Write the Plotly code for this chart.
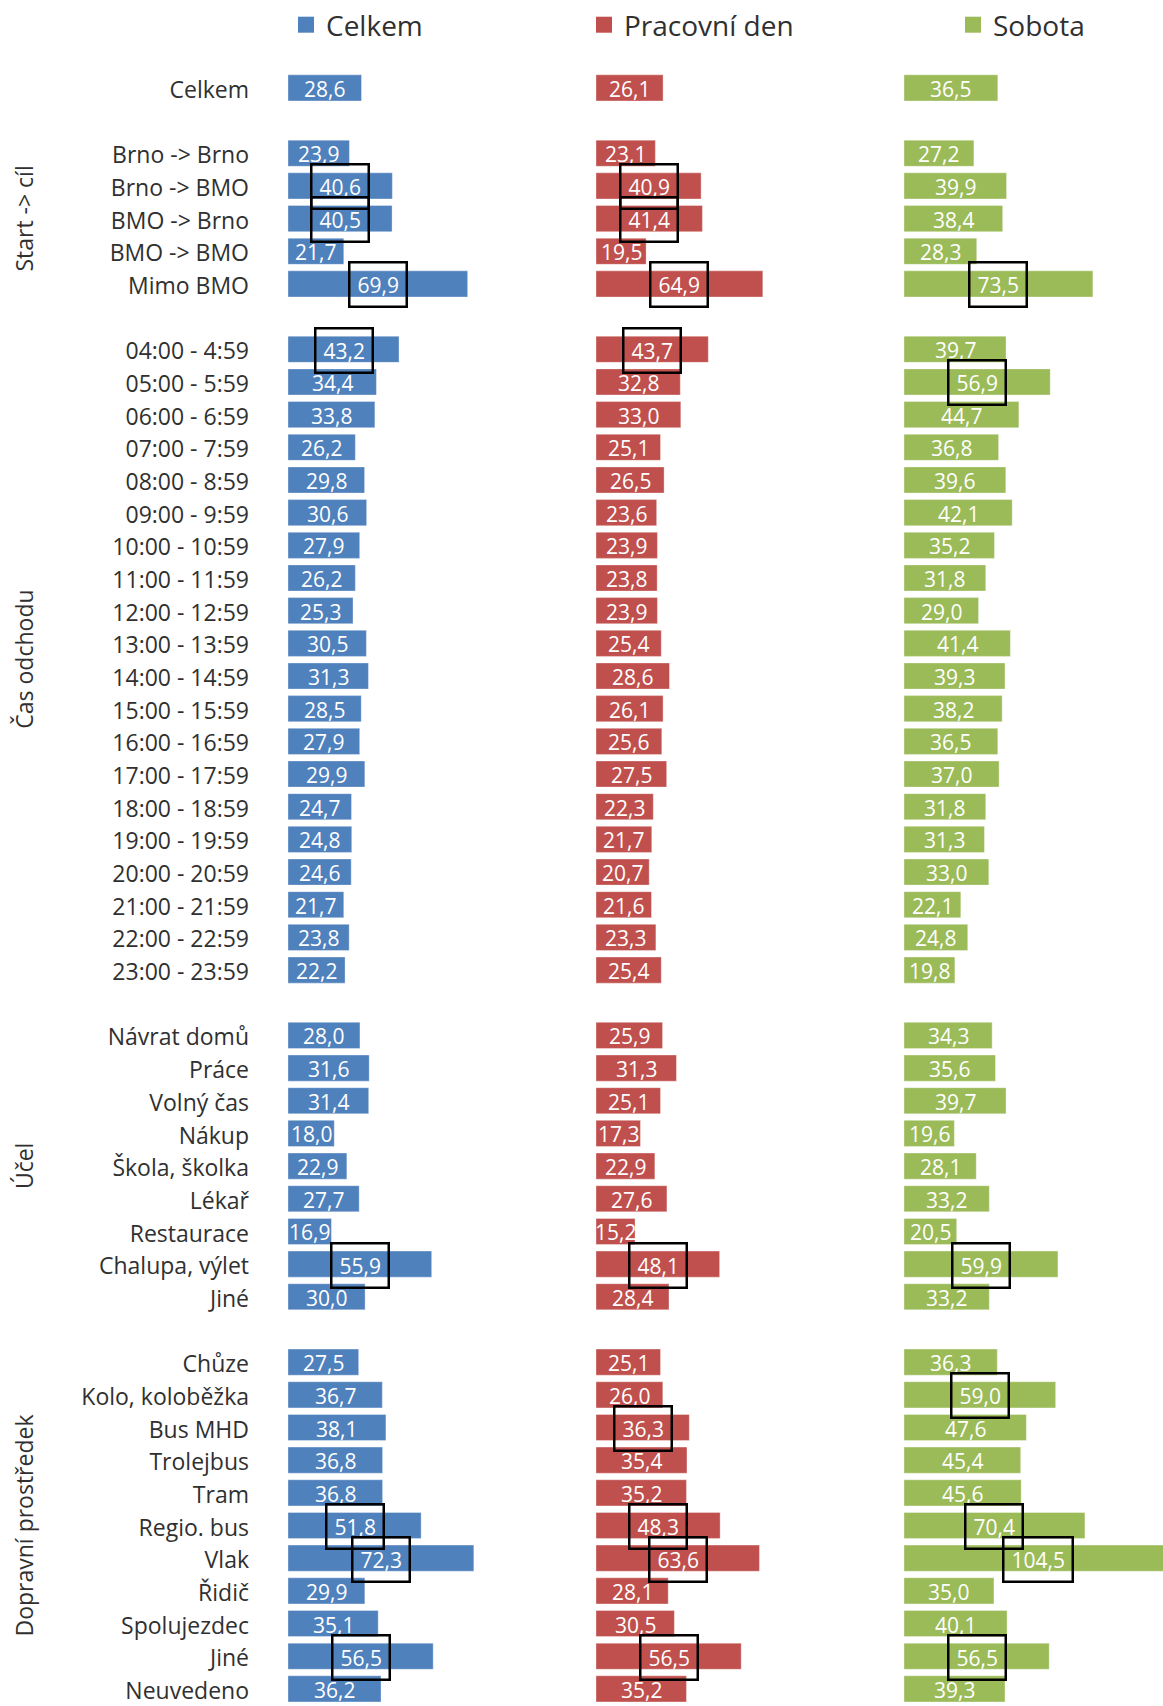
import plotly.graph_objects as go

# ---------------- data ----------------
series_names = ["Celkem", "Pracovní den", "Sobota"]
series_colors = ["#4F81BD", "#C0504D", "#9BBB59"]

group_titles = ["", "Start -> cíl", "Čas odchodu", "Účel", "Dopravní prostředek"]

cat_total = ["Celkem"]
cat_route = ["Brno -> Brno", "Brno -> BMO", "BMO -> Brno", "BMO -> BMO", "Mimo BMO"]
cat_time = ["04:00 - 4:59", "05:00 - 5:59", "06:00 - 6:59", "07:00 - 7:59", "08:00 - 8:59",
            "09:00 - 9:59", "10:00 - 10:59", "11:00 - 11:59", "12:00 - 12:59", "13:00 - 13:59",
            "14:00 - 14:59", "15:00 - 15:59", "16:00 - 16:59", "17:00 - 17:59", "18:00 - 18:59",
            "19:00 - 19:59", "20:00 - 20:59", "21:00 - 21:59", "22:00 - 22:59", "23:00 - 23:59"]
cat_purpose = ["Návrat domů", "Práce", "Volný čas", "Nákup", "Škola, školka", "Lékař",
               "Restaurace", "Chalupa, výlet", "Jiné"]
cat_mode = ["Chůze", "Kolo, koloběžka", "Bus MHD", "Trolejbus", "Tram", "Regio. bus", "Vlak",
            "Řidič", "Spolujezdec", "Jiné", "Neuvedeno"]

celkem_total = [28.6]
celkem_route = [23.9, 40.6, 40.5, 21.7, 69.9]
celkem_time = [43.2, 34.4, 33.8, 26.2, 29.8, 30.6, 27.9, 26.2, 25.3, 30.5,
               31.3, 28.5, 27.9, 29.9, 24.7, 24.8, 24.6, 21.7, 23.8, 22.2]
celkem_purpose = [28.0, 31.6, 31.4, 18.0, 22.9, 27.7, 16.9, 55.9, 30.0]
celkem_mode = [27.5, 36.7, 38.1, 36.8, 36.8, 51.8, 72.3, 29.9, 35.1, 56.5, 36.2]

prac_total = [26.1]
prac_route = [23.1, 40.9, 41.4, 19.5, 64.9]
prac_time = [43.7, 32.8, 33.0, 25.1, 26.5, 23.6, 23.9, 23.8, 23.9, 25.4,
             28.6, 26.1, 25.6, 27.5, 22.3, 21.7, 20.7, 21.6, 23.3, 25.4]
prac_purpose = [25.9, 31.3, 25.1, 17.3, 22.9, 27.6, 15.2, 48.1, 28.4]
prac_mode = [25.1, 26.0, 36.3, 35.4, 35.2, 48.3, 63.6, 28.1, 30.5, 56.5, 35.2]

sob_total = [36.5]
sob_route = [27.2, 39.9, 38.4, 28.3, 73.5]
sob_time = [39.7, 56.9, 44.7, 36.8, 39.6, 42.1, 35.2, 31.8, 29.0, 41.4,
            39.3, 38.2, 36.5, 37.0, 31.8, 31.3, 33.0, 22.1, 24.8, 19.8]
sob_purpose = [34.3, 35.6, 39.7, 19.6, 28.1, 33.2, 20.5, 59.9, 33.2]
sob_mode = [36.3, 59.0, 47.6, 45.4, 45.6, 70.4, 104.5, 35.0, 40.1, 56.5, 39.3]

# highlighted (boxed) labels: (group index, item index)
hl_celkem = [(1, 1), (1, 2), (1, 4), (2, 0), (3, 7), (4, 5), (4, 6), (4, 9)]
hl_prac = [(1, 1), (1, 2), (1, 4), (2, 0), (3, 7), (4, 2), (4, 5), (4, 6), (4, 9)]
hl_sob = [(1, 4), (2, 1), (3, 7), (4, 1), (4, 5), (4, 6), (4, 9)]

# ---------------- structure ----------------
groups = [cat_total, cat_route, cat_time, cat_purpose, cat_mode]
series_vals = [
    [celkem_total, celkem_route, celkem_time, celkem_purpose, celkem_mode],
    [prac_total, prac_route, prac_time, prac_purpose, prac_mode],
    [sob_total, sob_route, sob_time, sob_purpose, sob_mode],
]
series_hl = [hl_celkem, hl_prac, hl_sob]

# row positions: one blank row between groups
positions = []
labels = []
group_pos = []
row = 0
for gi, g in enumerate(groups):
    gp = []
    for c in g:
        positions.append(row)
        labels.append(c)
        gp.append(row)
        row += 1
    group_pos.append(gp)
    row += 1

W, H = 1163, 1706
FONT = "Open Sans"
TXT = "#303030"
pitch = 32.75
first_center = 88.1
y_top = -first_center / pitch
y_bot = (H - first_center) / pitch

px_per_unit = 2.57
col_left = [288, 596, 904]
col_right = [590, 898, 1163]

fig = go.Figure()
axis_ids = ["x", "x2", "x3"]
legend_ids = ["legend", "legend2", "legend3"]

annotations = []
for si in range(3):
    xs = []
    ys = []
    for gi in range(len(groups)):
        for ii, v in enumerate(series_vals[si][gi]):
            xs.append(v)
            ys.append(group_pos[gi][ii])
            boxed = (gi, ii) in series_hl[si]
            annotations.append(dict(
                x=v / 2, y=group_pos[gi][ii], xref=axis_ids[si], yref="y",
                text=f"{v:.1f}".replace(".", ","), showarrow=False,
                font=dict(family=FONT, size=21, color="white"),
                xanchor="center", yanchor="middle", yshift=-1,
                bordercolor="black" if boxed else "rgba(0,0,0,0)",
                borderwidth=2.5 if boxed else 0, borderpad=7,
            ))
    fig.add_trace(go.Bar(
        x=xs, y=ys, orientation="h", name=series_names[si],
        marker=dict(color=series_colors[si], line=dict(color="rgba(255,255,255,0.35)", width=1)),
        width=0.8, xaxis=axis_ids[si], yaxis="y", showlegend=False,
        hoverinfo="skip",
    ))
    # legend entry (square swatch)
    fig.add_trace(go.Scatter(
        x=[None], y=[None], mode="markers", name=series_names[si],
        marker=dict(symbol="square", size=16, color=series_colors[si]),
        xaxis=axis_ids[si], yaxis="y", legend=legend_ids[si], showlegend=True,
        hoverinfo="skip",
    ))

# group titles (rotated)
for gi in range(1, len(groups)):
    gp = group_pos[gi]
    annotations.append(dict(
        x=24 / W, xref="paper", y=(gp[0] + gp[-1]) / 2, yref="y",
        text=group_titles[gi], textangle=-90, showarrow=False,
        font=dict(family=FONT, size=23, color=TXT),
        xanchor="center", yanchor="middle",
    ))

layout_axes = {}
for si, ax in enumerate(["xaxis", "xaxis2", "xaxis3"]):
    d0 = col_left[si] / W
    d1 = col_right[si] / W
    rng = (col_right[si] - col_left[si]) / px_per_unit
    layout_axes[ax] = dict(domain=[d0, d1], range=[0, rng], visible=False,
                           anchor="y", fixedrange=True)

legend_x = [286, 584, 953]
legends = {}
for si, lid in enumerate(legend_ids):
    legends[lid] = dict(x=legend_x[si] / W, xanchor="left", y=1 - 25 / H, yanchor="middle",
                        orientation="h", bgcolor="rgba(0,0,0,0)",
                        font=dict(family=FONT, size=28, color=TXT))

fig.update_layout(
    width=W, height=H,
    margin=dict(l=0, r=0, t=0, b=0),
    paper_bgcolor="white", plot_bgcolor="white",
    barmode="overlay", showlegend=True,
    font=dict(family=FONT, color=TXT),
    yaxis=dict(
        range=[y_bot, y_top], tickmode="array", tickvals=positions, ticktext=labels,
        showgrid=False, zeroline=False, showline=False, ticks="",
        tickfont=dict(family=FONT, size=23, color=TXT),
        ticklabelstandoff=38, ticklabelshift=-2, ticklabeloverflow="allow",
        anchor="x", domain=[0, 1], fixedrange=True,
    ),
    annotations=annotations,
    **layout_axes,
    **legends,
)

fig.write_html("out.html", config={"displayModeBar": False},
               post_script="document.body.style.margin='0';document.body.style.overflow='hidden';")
